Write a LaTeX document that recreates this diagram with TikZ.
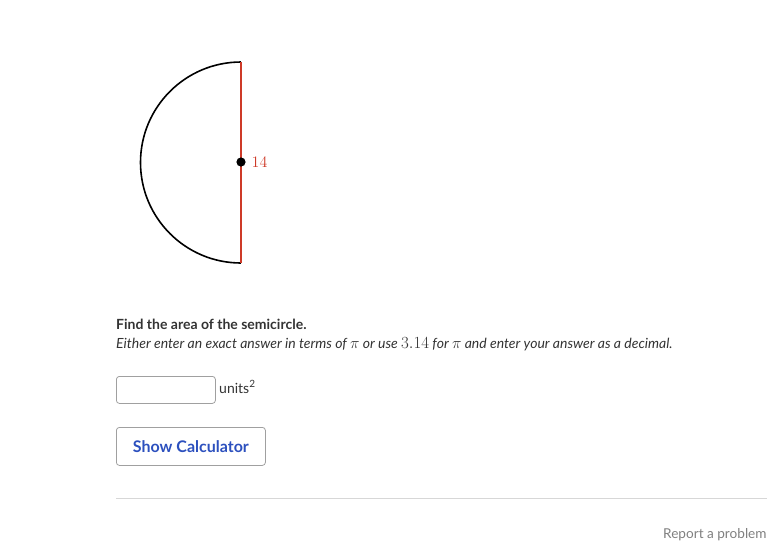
\documentclass[tikz,border=0pt]{standalone}
\usepackage{fix-cm}
\usepackage{fontspec}
\setmainfont{Lato}
\usepackage{amsmath}
\usetikzlibrary{positioning}
\definecolor{diamred}{RGB}{206,58,40}
\definecolor{textgray}{RGB}{51,51,51}
\definecolor{boxgray}{RGB}{160,160,160}
\definecolor{btnblue}{RGB}{44,80,190}
\definecolor{rulegray}{RGB}{215,215,215}

\begin{document}
\begin{tikzpicture}[x=1pt,y=-1pt,
    txt/.style={inner sep=0pt, anchor=base west, text=textgray},
    field/.style={draw=boxgray, rounded corners=3pt, line width=0.8pt}]
            \useasboundingbox (0,0) rectangle (767,542);
            % Figura
            \coordinate (c) at (241,162);
            \coordinate (top) at (241,62);
            \coordinate (bot) at (241,263);
            \draw[line width=1.6pt] (top) arc[start angle=-90, end angle=-270, radius=100.5];
            \draw[diamred, line width=1.3pt] (top) -- (bot);
            \fill (c) circle (4.6);
            \node[text=diamred, anchor=west, inner sep=0pt, font=\fontsize{16}{18}\selectfont] (diam) at (251.5,162.5) {$14$};
            % Texto
            \node[txt, font=\fontsize{14}{17}\selectfont\bfseries] (title) at (116,329) {Find the area of the semicircle.};
            \node[txt, font=\fontsize{14}{16}\selectfont\itshape] (hint) at (116,348)
              {Either enter an exact answer in terms of {\fontsize{16}{16}\selectfont$\pi$} or use {\fontsize{17}{16}\selectfont$3.14$} for {\fontsize{16}{16}\selectfont$\pi$} and enter your answer as a decimal.};
            % Campos
            \node[field, minimum width=99pt, minimum height=27pt, inner sep=0pt, anchor=north west] (answer) at (116,376) {};
            \node[txt, font=\fontsize{14}{16}\selectfont] (units) at (219,393) {units{\fontsize{10}{10}\selectfont\raisebox{5.5pt}{2}}};
            \node[field, minimum width=149pt, minimum height=38pt, inner sep=0pt, anchor=north west,
                  text=btnblue, font=\fontsize{16}{18}\selectfont\bfseries] (calc) at (116,427) {Show Calculator};
            \draw[rulegray, line width=0.9pt] (116,498) -- (767,498);
            \node[txt, text=gray, font=\fontsize{13.6}{16}\selectfont] (report) at (663,538.5) {Report a problem};
          \end{tikzpicture}
\end{document}
